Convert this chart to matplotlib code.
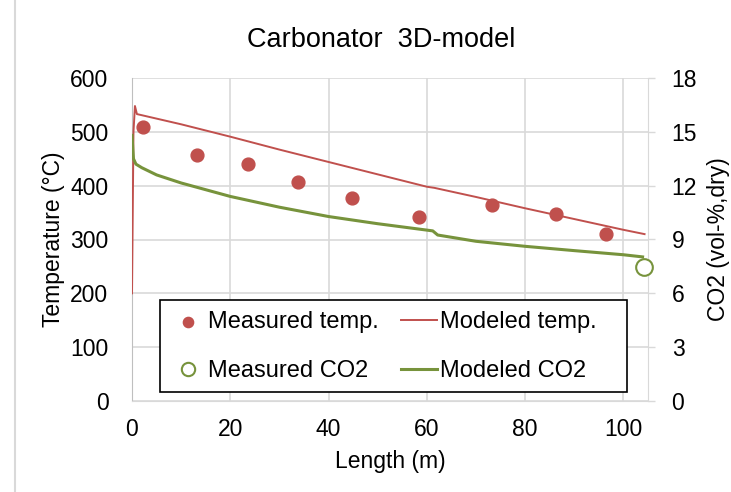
import numpy as np
import matplotlib
matplotlib.use("Agg")
import matplotlib.pyplot as plt
from matplotlib.lines import Line2D
from matplotlib.patches import Rectangle

plt.rcParams['font.family'] = ['Liberation Sans', 'DejaVu Sans']

# measured temperatures along the carbonator
meas_len = [2.2, 13.2, 23.6, 33.7, 44.7, 58.3, 73.2, 86.2, 96.5]
meas_temp = [509, 457, 440, 407, 377, 342, 364, 348, 310]

# modeled temperature profile
model_t_len = [0, 0.3, 0.6, 1.0, 10, 20, 30, 40, 50, 60, 61.5, 62.5,
               70, 80, 90, 100, 104.3]
model_temp = [200, 500, 548, 533, 514, 491, 467, 444, 421, 398, 396, 394,
              379, 358, 338, 318, 310]

# modeled CO2 profile
model_c_len = [0, 0.3, 0.8, 2, 5, 10, 20, 30, 40, 50, 61.2, 62.2,
               70, 80, 90, 100, 103.9]
model_co2 = [14.8, 13.5, 13.2, 13.0, 12.6, 12.15, 11.4, 10.8, 10.28, 9.88,
             9.48, 9.25, 8.9, 8.62, 8.38, 8.15, 8.03]

# measured CO2 at the outlet
meas_co2_len = [104.1]
meas_co2 = [7.47]

red = "#C0504D"
green = "#77933C"
grid = "#D9D9D9"

fig = plt.figure(figsize=(7.31, 4.92), dpi=100)
ax = fig.add_axes([132/731, 1 - 401/492, 516/731, 323/492])
ax2 = ax.twinx()

# temperature on the left axis
ax.scatter(meas_len, meas_temp, s=85, color=red, zorder=4,
           label="Measured temp.")
ax.plot(model_t_len, model_temp, color=red, lw=1.4, zorder=4,
        label="Modeled temp.")

# CO2 on the right axis
ax2.plot(model_c_len, model_co2, color=green, lw=2.2, zorder=2,
         label="Modeled CO2")
ax2.plot(meas_co2_len, meas_co2, 'o', ms=12, mfc="white", mec=green,
         mew=1.5, zorder=3, clip_on=False, label="Measured CO2")

ax.set_xlim(0, 105)
ax.set_ylim(0, 600)
ax2.set_ylim(0, 18)
ax.set_xticks(np.arange(0, 101, 20))
ax.set_yticks(np.arange(0, 601, 100))
ax2.set_yticks(np.arange(0, 19, 3))

ax.grid(True, color=grid, lw=1.2)
ax.set_axisbelow(True)

for a in (ax, ax2):
    for s in a.spines.values():
        s.set_visible(False)
ax.spines['left'].set_visible(True)
ax.spines['left'].set_color("#BFBFBF")
ax.spines['bottom'].set_visible(True)
ax.spines['bottom'].set_color(grid)
ax2.spines['right'].set_visible(True)
ax2.spines['right'].set_color(grid)

ax.tick_params(axis='both', length=0, labelsize=16.5)
ax.tick_params(axis='y', pad=17)
ax.tick_params(axis='x', pad=12)
ax2.tick_params(axis='y', length=5, width=1, color=grid, pad=12,
                labelsize=16.5)

ax.set_xlabel("Length (m)", fontsize=16.5, labelpad=7)
ax.set_ylabel("Temperature (°C)", fontsize=16.5, labelpad=4)
ax2.set_ylabel("CO2 (vol-%,dry)", fontsize=16.5, labelpad=7)
ax.set_title("Carbonator  3D-model", fontsize=19.5, pad=22,
             x=(381 - 132) / 516)

# legend: temperature row first, CO2 row second
h1, l1 = ax.get_legend_handles_labels()
h2, l2 = ax2.get_legend_handles_labels()
handles = [h1[0], h2[1], h1[1], h2[0]]
labels = [l1[0], l2[1], l1[1], l2[0]]
leg = ax2.legend(handles, labels, ncol=2, loc="upper left",
                 bbox_to_anchor=((170 - 132) / 516, (401 - 311) / 323),
                 borderaxespad=0, borderpad=0, fontsize=17,
                 handlelength=1.53, handletextpad=0.1, columnspacing=0.93,
                 labelspacing=1.15, markerscale=0.8, frameon=False)
leg.set_zorder(10)

# legend box drawn separately so it can be wider than its entries
ax2.add_patch(Rectangle((28 / 516, 9 / 323), 467 / 516, 92 / 323,
                        transform=ax2.transAxes, facecolor="white",
                        edgecolor="black", lw=1.2, zorder=9))

# outer chart border on the left
fig.add_artist(Line2D([15/731, 15/731], [0, 1], color=grid, lw=1.5,
                      transform=fig.transFigure))

plt.savefig("out.png", dpi=100)
